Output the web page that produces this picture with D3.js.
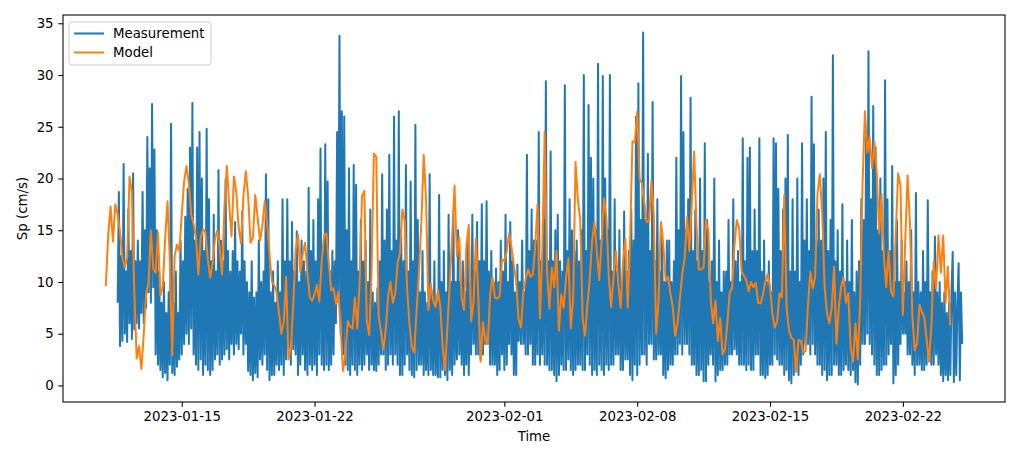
<!DOCTYPE html>
<html>
<head>
<meta charset="utf-8">
<script src="https://cdn.jsdelivr.net/npm/d3@7"></script>
<style>
  body { margin: 0; background: #fff; }
  text { font-family: "DejaVu Sans", sans-serif; fill: #000; }
</style>
</head>
<body>
<div id="chart"></div>
<script>
// measurement every 90 minutes, model every 3 hours
const measStepMinutes = 90;
const modelStepMinutes = 180;
const measStart = "2023-01-11T15:00:00Z";
const modelStart = "2023-01-11T00:00:00Z";

// one row per day (16 samples)
const measValues = [
  8, 18.7, 3.8, 12.5, 4.3, 21.4, 5, 11, 4.2, 17, 6, 13, 4.5, 20.5, 5.4, 12,
  6, 14, 5.5, 12, 7, 18.7, 6, 15, 7.5, 24, 9, 21, 8, 27.2, 9.5, 22.8,
  3, 15, 2, 11, 1.5, 8, 0.8, 10, 1.2, 7, 0.5, 9, 2, 25.3, 1.2, 8,
  1, 11, 1.8, 7, 2.5, 14, 3, 12, 4, 16.3, 5, 19, 4, 23, 5.5, 27.3,
  3, 14, 2, 23, 1.5, 24.5, 2.5, 20, 1, 13, 2, 24.8, 1.5, 18, 1, 12,
  1.5, 16.5, 2.5, 11, 3, 20.8, 2, 14, 2.5, 12, 3, 19.9, 3.5, 13, 2.5, 11,
  4, 13, 3, 15.8, 4, 12, 3.5, 11, 5, 16.8, 3, 12, 4, 10, 1.4, 9,
  1, 12, 0.5, 8.5, 1.2, 9, 0.8, 14, 2.5, 10, 2, 11, 3, 20.4, 1.5, 18,
  0.5, 9, 1, 11, 1, 8, 2, 12, 1.5, 9, 2, 18, 1, 12, 2.5, 18,
  3.6, 12, 2, 15.8, 3.5, 11, 3, 14.9, 1, 10, 2, 14, 3, 12, 1.5, 11,
  1, 19.1, 2, 13, 1.5, 16, 2, 12, 1, 18, 3, 22.9, 2, 13, 1.5, 23.3,
  2, 19.7, 1.5, 11, 2, 13, 3, 12, 6, 24.5, 8, 33.8, 5, 26.5, 3, 26,
  2, 15, 1.5, 21, 1, 12, 2, 21.3, 1.5, 19.4, 1, 11, 2, 16, 1.5, 12,
  2, 14, 3, 10, 1.5, 17, 2, 9, 1.5, 8, 1.4, 9.4, 2, 12, 3, 20.4,
  3, 14, 1.5, 17, 2, 22.3, 3, 13, 2, 26, 3, 14, 2, 26.5, 1, 15,
  1, 12, 2, 21.3, 3, 11, 1.5, 19.7, 1, 12, 0.8, 25.2, 1.5, 16, 2, 9,
  2, 13, 1, 9, 1.5, 8, 1, 20.4, 1.5, 9, 1, 12, 1, 8, 0.8, 18.4,
  0.8, 10, 1.5, 13, 1, 9, 0.5, 16.5, 1.5, 10, 1, 16.5, 2, 10, 2.5, 15,
  3, 10, 2, 12, 1, 9, 2, 14, 1, 10, 3, 16.5, 4, 11, 3, 15.8,
  3, 12, 2.5, 17.5, 3, 12, 4, 17.8, 4, 11, 2, 13, 2, 10, 2, 11.3,
  1, 10, 1.5, 14, 3, 11, 1.5, 16.5, 2, 10, 4, 15.8, 3, 12, 1, 9,
  1, 11.7, 4.3, 10, 4, 14, 4, 9, 3, 22.3, 3, 13, 4, 17, 2, 14,
  2, 14, 3, 24.5, 2, 12, 3, 16, 2, 29.4, 2, 12, 1.5, 22.6, 1.5, 12,
  1, 15, 0.4, 16.5, 1, 12, 2, 11, 1.5, 29, 1.5, 13, 2.5, 18, 1.5, 15,
  1, 13, 1.5, 14, 2, 12, 2, 15, 1.5, 30, 1.5, 13, 3, 27.1, 2, 22,
  1, 20, 1.5, 15, 1, 31.1, 2, 14, 1.5, 29.9, 1, 20, 2, 15, 1.5, 30,
  2, 11, 2, 18, 3, 11, 3, 15, 1.5, 10, 1.5, 16.8, 2.5, 11, 2.5, 13,
  1, 17, 0.5, 14, 2, 26, 1, 29.2, 2, 16, 3, 34.1, 3, 16, 2, 22.4,
  4, 13, 4, 27.4, 2.5, 12, 2.5, 18, 3, 11, 3, 15, 1, 10, 0.7, 14,
  1.5, 14, 2, 10, 2, 12, 3, 22, 3, 15, 4, 29.9, 3, 24.5, 4, 15,
  4, 18, 3, 27.8, 2, 13, 2, 17, 1, 12, 1, 20, 1.5, 13, 0.4, 23.4,
  0.4, 16, 2, 10, 3, 12, 2, 20, 0.4, 10, 1, 14, 1.5, 9, 1.5, 11,
  2, 11, 2, 16, 3, 10, 3, 18, 3.5, 12, 3, 13, 2, 10, 2, 23.9,
  2, 12, 1.5, 22, 2, 23, 1.5, 13, 1.5, 17, 3, 13, 3, 23.9, 1, 11,
  1, 14, 0.7, 10, 1, 12, 2, 9, 2, 23.9, 3, 23.4, 2.5, 19, 2, 13,
  2, 17, 1, 20, 1.5, 24.2, 0.5, 11, 0.2, 18, 1, 11, 1.5, 20, 1, 10,
  2, 23.4, 3, 14, 4, 18, 4, 13, 3, 27.9, 4, 23.3, 3, 14, 2, 17,
  2, 14, 1, 20, 1.5, 24.5, 0.5, 13, 1, 16, 1, 31.9, 2, 12, 2, 15,
  1, 11, 1, 17.5, 1.5, 10, 2, 14, 1.5, 10, 1, 16, 1.5, 9, 0.3, 11,
  0.1, 12, 2, 18, 4, 16, 4, 24, 5, 32.3, 4, 18, 3, 27, 2, 23,
  1, 15, 1, 20, 1.5, 13, 2, 29.5, 2, 18, 3, 13, 4, 21.2, 0.2, 10,
  1, 16, 2, 10, 4, 14, 5, 9, 5, 12, 3, 10, 3, 15, 2, 9,
  1, 18.6, 2, 10, 2, 9, 1.5, 13, 1.5, 10, 2, 17.9, 3, 9, 2, 11,
  2, 14.4, 3, 9, 2, 10, 1, 8, 0.4, 9, 1, 7, 0.5, 8, 1, 9,
  12.9, 0.3, 9, 1, 8, 11.8, 0.5, 9, 4
];

const modelValues = [
  9.6, 14.5, 17.3, 13.9, 17.5, 16.5, 14.8, 12.3, 11.4, 12.4,
  20.2, 18.6, 9, 2.6, 3.8, 1.6, 5, 8.9, 9.8, 15,
  11.3, 10.9, 14.8, 8.7, 9.5, 14.1, 17.8, 12, 2.9, 12.5,
  13.6, 13, 16.5, 19.7, 21.2, 19.5, 16.5, 15.6, 14.3, 10.7,
  14.3, 15.1, 14.8, 12.2, 10.4, 11.8, 14.1, 15, 13.3, 10.7,
  17.2, 21.2, 17.5, 14.4, 20.2, 18.7, 15.3, 13.7, 18.3, 20.7,
  18.3, 13.8, 14.3, 18.4, 16.2, 14, 15.4, 17.8, 15.7, 12.7,
  10, 9.7, 9, 7, 5, 6.1, 10.5, 2.5, 3.6, 7.8,
  13, 14.6, 10.9, 12.7, 13.8, 10.8, 8.5, 8.2, 8.8, 9.7,
  8.1, 12, 14.5, 14.7, 11.8, 9.2, 9.4, 7.9, 9, 5.4,
  1.4, 2.9, 6.2, 5.7, 5.5, 8.5, 5.5, 10, 18.3, 18.8,
  6.2, 4.9, 10.6, 22.4, 22.1, 6.7, 5.2, 3.5, 5.4, 8.6,
  10, 8, 8.9, 11.8, 12.8, 17, 15.9, 9.4, 5.9, 3.7,
  3.2, 7.2, 11, 15.7, 22.3, 18, 7.3, 9.8, 8.2, 7.6,
  9.2, 7.6, 3.8, 1.5, 5.7, 9.9, 14.5, 19.3, 12.5, 14.3,
  8.4, 7.3, 13.5, 15.5, 6.2, 8, 14.2, 8.7, 2.3, 6.1,
  4.3, 4, 8.7, 10.5, 8.5, 8.4, 8.6, 12.2, 12, 12.9,
  14.7, 13.4, 11.6, 10, 6.4, 5.6, 9.1, 10.3, 11.2, 10.5,
  10.7, 13.5, 17.5, 6.5, 13, 24.5, 11, 7.4, 11.4, 9.5,
  13, 5.3, 8.8, 7.5, 10.4, 12.3, 5.5, 8.3, 21.6, 17.9,
  16, 6.5, 4.8, 7.8, 10.3, 13.9, 15.8, 12.9, 10.2, 14,
  18.1, 16.3, 10.6, 7.6, 10.4, 13, 10, 7.5, 11.9, 14.2,
  7.5, 14, 23.6, 23.5, 26.5, 20, 19.5, 17.7, 15.8, 15.8,
  19.8, 16.5, 5, 8.2, 15.8, 13.7, 10.1, 10.5, 8.9, 7.6,
  4.8, 6, 8.4, 10.8, 12.3, 16.3, 13, 17.5, 22.6, 15.5,
  11.2, 11.2, 11.4, 16, 15, 8.4, 6, 8.2, 4.3, 6.5,
  3, 3.5, 6, 9, 9.4, 13.5, 16, 15.2, 11, 10.6,
  10.2, 9.1, 10, 9.5, 9.9, 8, 7.9, 8.8, 10, 10.8,
  9.5, 6.9, 5.6, 6.2, 8.9, 8.5, 18.4, 7.5, 5.3, 4.6,
  4.4, 1.3, 4.4, 4.3, 3.2, 3.3, 7.8, 11, 9.4, 10.5,
  18.5, 20.4, 16.6, 9.5, 7, 6, 7.5, 11.5, 4, 7.6,
  9.6, 10.4, 8, 8.9, 3.6, 2.3, 6, 2.5, 8.3, 19.5,
  26.5, 22.5, 24, 21, 23.5, 20.5, 14.7, 18.5, 12.4, 9.5,
  13, 9, 8.6, 14.7, 20.5, 19.3, 6.8, 14, 20.3, 15.5,
  6.7, 3.4, 4.1, 7.8, 7.1, 6.6, 4.5, 2.3, 5.7, 11.9,
  9.4, 14.5, 10.9, 14.5, 8, 11.5, 5.8
];

const xTickLabels = ["2023-01-15", "2023-01-22", "2023-02-01", "2023-02-08", "2023-02-15", "2023-02-22"];
const yTicks = [0, 5, 10, 15, 20, 25, 30, 35];
const seriesNames = ["Measurement", "Model"];
const seriesColors = ["#1f77b4", "#ff7f0e"];

function toSeries(start, stepMinutes, values) {
  const t0 = new Date(start);
  return values.map(function (v, i) {
    return { date: d3.utcMinute.offset(t0, i * stepMinutes), value: v };
  });
}

const meas = toSeries(measStart, measStepMinutes, measValues);
const model = toSeries(modelStart, modelStepMinutes, modelValues);

const width = 1024, height = 450;
const margin = { top: 15, right: 19, bottom: 48, left: 63 };
const innerW = width - margin.left - margin.right;
const innerH = height - margin.top - margin.bottom;

const svg = d3.select("#chart").append("svg")
  .attr("width", width)
  .attr("height", height);

const g = svg.append("g")
  .attr("transform", "translate(" + margin.left + "," + margin.top + ")");

// matplotlib style 5% margins on both axes
const all = meas.concat(model);
const tExt = d3.extent(all, d => d.date);
const tPad = (tExt[1] - tExt[0]) * 0.05;
const vExt = d3.extent(all, d => d.value);
const vPad = (vExt[1] - vExt[0]) * 0.05;

const x = d3.scaleUtc()
  .domain([new Date(+tExt[0] - tPad), new Date(+tExt[1] + tPad)])
  .range([0, innerW]);
const y = d3.scaleLinear()
  .domain([vExt[0] - vPad, vExt[1] + vPad])
  .range([innerH, 0]);

svg.append("clipPath").attr("id", "clip")
  .append("rect").attr("width", innerW).attr("height", innerH);

const line = d3.line()
  .x(d => x(d.date))
  .y(d => y(d.value));

const plot = g.append("g").attr("clip-path", "url(#clip)");
[meas, model].forEach(function (s, i) {
  plot.append("path")
    .datum(s)
    .attr("fill", "none")
    .attr("stroke", seriesColors[i])
    .attr("stroke-width", 2)
    .attr("stroke-linejoin", "round")
    .attr("d", line);
});

// axes
const xAxis = d3.axisBottom(x)
  .tickValues(xTickLabels.map(s => new Date(s + "T00:00:00Z")))
  .tickFormat(d3.utcFormat("%Y-%m-%d"))
  .tickSize(4.7)
  .tickPadding(4.7);
const yAxis = d3.axisLeft(y)
  .tickValues(yTicks)
  .tickSize(4.7)
  .tickPadding(4.7);

const gx = g.append("g").attr("transform", "translate(0," + innerH + ")").call(xAxis);
const gy = g.append("g").call(yAxis);
[gx, gy].forEach(function (a) {
  a.select(".domain").remove();
  a.selectAll(".tick line").attr("stroke", "#000").attr("stroke-width", 1.07);
  a.selectAll(".tick text").style("font-size", "13.33px").attr("fill", "#000");
});

g.append("rect")
  .attr("width", innerW)
  .attr("height", innerH)
  .attr("fill", "none")
  .attr("stroke", "#000")
  .attr("stroke-width", 1.07);

// axis labels
svg.append("text")
  .attr("x", margin.left + innerW / 2)
  .attr("y", 441)
  .attr("text-anchor", "middle")
  .style("font-size", "13.33px")
  .text("Time");

svg.append("text")
  .attr("transform", "translate(27," + (margin.top + innerH / 2) + ") rotate(-90)")
  .attr("text-anchor", "middle")
  .style("font-size", "13.33px")
  .text("Sp (cm/s)");

// legend
const legend = svg.append("g").attr("transform", "translate(69,22)");
legend.append("rect")
  .attr("width", 142)
  .attr("height", 43)
  .attr("rx", 3)
  .attr("fill", "#fff")
  .attr("fill-opacity", 0.8)
  .attr("stroke", "#cccccc")
  .attr("stroke-width", 1);

seriesNames.forEach(function (name, i) {
  const yy = 11.5 + i * 19;
  legend.append("line")
    .attr("x1", 5).attr("x2", 35)
    .attr("y1", yy).attr("y2", yy)
    .attr("stroke", seriesColors[i])
    .attr("stroke-width", 2);
  legend.append("text")
    .attr("x", 44)
    .attr("y", yy)
    .attr("dy", "0.35em")
    .style("font-size", "13.33px")
    .text(name);
});
</script>
</body>
</html>
